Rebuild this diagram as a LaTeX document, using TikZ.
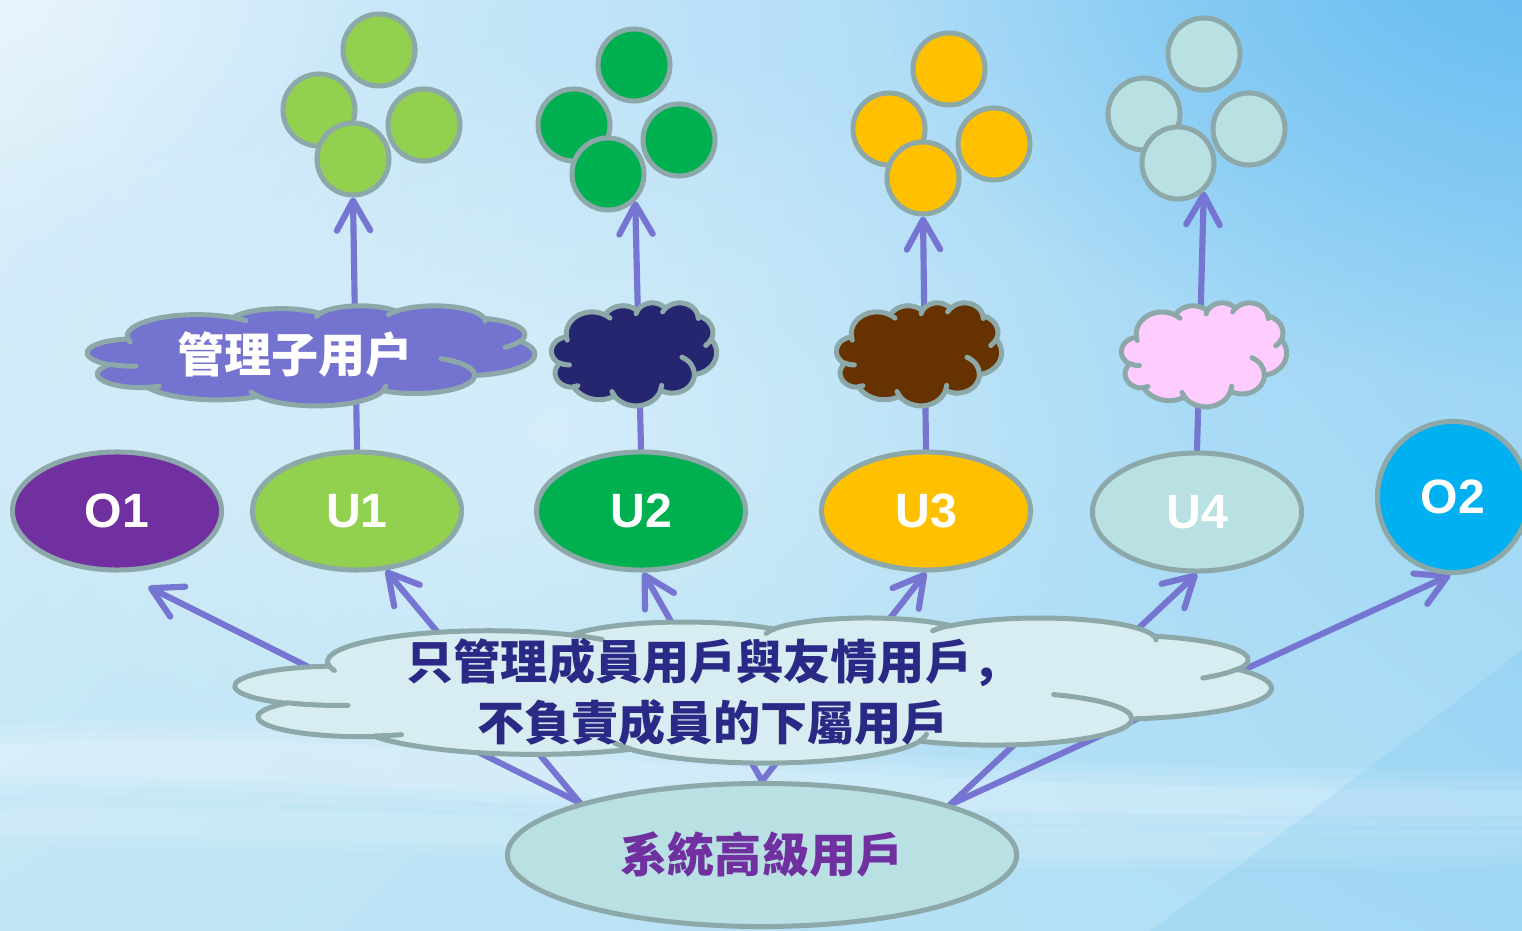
\documentclass[tikz,border=0pt]{standalone}
\usepackage{fontspec}
\newfontfamily\lat{Liberation Sans}
\newfontfamily\cjk{Noto Sans CJK TC}
\newfontfamily\cjksc{Noto Sans CJK SC}
\usetikzlibrary{shapes.geometric,arrows.meta,fadings,shadings,calc}
\pgfdeclarelayer{bg}\pgfdeclarelayer{back}\pgfsetlayers{bg,back,main}
\tikzfading[name=softglow,inner color=transparent!0,outer color=transparent!100]
\definecolor{ol}{HTML}{8DA8A9}
\definecolor{ac}{HTML}{7676D2}
\definecolor{cO1}{HTML}{7030A0}
\definecolor{cU1}{HTML}{92D050}
\definecolor{cU2}{HTML}{00B050}
\definecolor{cU3}{HTML}{FFC000}
\definecolor{cU4}{HTML}{B9E0E2}
\definecolor{cO2}{HTML}{00B0F0}
\definecolor{cPur}{HTML}{7474D0}
\definecolor{cNavy}{HTML}{262670}
\definecolor{cBrown}{HTML}{663300}
\definecolor{cPink}{HTML}{FFCCFF}
\definecolor{cBig}{HTML}{D8EDF1}
\definecolor{tNavy}{HTML}{2A2A86}
\definecolor{bgUL}{HTML}{DCEFFA}
\definecolor{bgUR}{HTML}{93D1F5}
\definecolor{bgLL}{HTML}{C2E6F6}
\definecolor{bgLR}{HTML}{AEDEF5}
\definecolor{glow}{HTML}{5CB8F0}
% PowerPoint-like cloud (units of 1000 in a 43.2 x 43.2 box, y down)
\newcommand\ooarc[4]{arc[x radius=#1,y radius=#2,start angle={atan2((#1)*sin(#3),(#2)*cos(#3))},delta angle={mod(atan2((#1)*sin((#3)+(#4)),(#2)*cos((#3)+(#4)))-atan2((#1)*sin(#3),(#2)*cos(#3))+720,360)}]}
\def\cloudpath{(3.900,14.370)
 \ooarc{6.753}{9.190}{-190.4875}{123.7805}
 \ooarc{5.333}{7.267}{-144.1024}{89.9452}
 \ooarc{4.365}{5.945}{-145.8079}{99.7230}
 \ooarc{4.857}{6.595}{-130.9861}{117.2417}
 \ooarc{5.333}{7.273}{-78.7089}{109.0269}
 \ooarc{6.775}{9.220}{-46.2673}{130.2690}
 \ooarc{5.785}{7.867}{0.6250}{114.0333}
 \ooarc{6.752}{9.215}{22.4516}{115.1726}
 \ooarc{7.720}{10.543}{66.2426}{75.7110}
 \ooarc{4.360}{5.918}{-274.9421}{146.7356}
 \ooarc{4.345}{5.945}{-246.8285}{152.5189}
 -- cycle}
\def\cloudinner{(4.693,26.177) \ooarc{4.345}{5.945}{86.7420}{26.4295}
 (6.928,34.899) \ooarc{4.360}{5.918}{73.6105}{11.4475}
 (16.478,39.090) \ooarc{6.752}{9.215}{137.6242}{14.0811}
 (28.827,34.751) \ooarc{6.752}{9.215}{6.4533}{15.9984}
 (34.129,22.954) \ooarc{5.785}{7.867}{-70.2924}{70.9174}
 (41.798,15.354) \ooarc{5.333}{7.273}{30.3180}{27.7515}
 (38.324,5.426) \ooarc{4.857}{6.595}{-13.7443}{14.8589}
 (29.078,3.952) \ooarc{4.857}{6.595}{-149.1815}{18.1954}
 (22.141,4.720) \ooarc{4.365}{5.945}{-163.4943}{17.6864}
 (14.000,5.192) \ooarc{6.753}{9.190}{-66.7070}{12.3194}
 (4.127,15.789) \ooarc{6.753}{9.190}{157.6544}{11.8582}}
\newcommand\ppcloud[5]{\begin{scope}[shift={(#1,#2)},x=1cm,y=1cm,xscale=#3/4320,yscale=-#4/4320]
 \filldraw[cloudline,fill=#5] \cloudpath;
 \draw[cloudline] \cloudinner;
\end{scope}}
\newcommand\cluster[4]{%
 \node[ball,fill=#4] (g#1a) at (#2,#3) {};
 \node[ball,fill=#4] (g#1b) at ($(#2,#3)+(-60,60)$) {};
 \node[ball,fill=#4] (g#1c) at ($(#2,#3)+(45,75)$) {};
 \node[ball,fill=#4] (g#1d) at ($(#2,#3)+(-26,109)$) {};}
\tikzset{
 outl/.style={draw=ol,line width=1.42pt},
 cloudline/.style={draw=ol,line width=1.42pt,line join=round,line cap=round},
 ball/.style={circle,outl,minimum size=0.72cm,inner sep=0pt},
 unode/.style={ellipse,outl,minimum width=2.09cm,minimum height=1.18cm,inner sep=0pt,
   text=white,font=\lat\bfseries\fontsize{13.7}{16}\selectfont},
 onode/.style={circle,outl,fill=cO2,minimum size=1.51cm,inner sep=0pt,
   text=white,font=\lat\bfseries\fontsize{13.7}{16}\selectfont},
 sysnode/.style={ellipse,outl,fill=cU4,minimum width=5.09cm,minimum height=1.43cm,inner sep=0pt,
   text=cO1,font=\cjk\bfseries\fontsize{13.4}{16}\selectfont},
 conn/.style={draw=ac,line width=1.75pt,line cap=round,-{Straight Barb[length=8.5pt,width=9.5pt,round]}},
 cjktext/.style={font=\cjk\bfseries\fontsize{13.4}{17.1}\selectfont,align=center,inner sep=0pt}
}
\begin{document}
\begin{tikzpicture}[x=0.01cm,y=-0.01cm]
\useasboundingbox (0,0) rectangle (1522,931);
% background
\begin{pgfonlayer}{bg}
\shade[upper left=bgUL,upper right=bgUR,lower left=bgLL,lower right=bgLR] (0,0) rectangle (1522,931);
\fill[glow,opacity=0.85,path fading=softglow] (1522,-60) ellipse [x radius=6.5cm,y radius=4.5cm];
\fill[white,opacity=0.35,path fading=softglow] (560,430) ellipse [x radius=6cm,y radius=4cm];
\fill[white,opacity=0.35,path fading=softglow] (0,0) ellipse [x radius=3.5cm,y radius=2.5cm];
\foreach \w/\o in {30/0.10,20/0.12,10/0.15}{
 \fill[white,opacity=\o] (0,755-\w) .. controls (350,730-\w) and (700,800-\w) .. (1522,800-\w)
  -- (1522,805+\w) .. controls (700,810+\w) and (350,765+\w) .. (0,765+\w) -- cycle;}
\foreach \w/\o in {20/0.08,10/0.1}{
 \fill[white,opacity=\o] (0,820-\w) .. controls (400,810-\w) and (800,850-\w) .. (1522,840-\w)
  -- (1522,845+\w) .. controls (800,860+\w) and (400,825+\w) .. (0,825+\w) -- cycle;}
\fill[glow,opacity=0.15] (1150,931) .. controls (1300,820) and (1420,730) .. (1522,650) -- (1522,931) -- cycle;
\end{pgfonlayer}
% clusters
\cluster{1}{379}{50}{cU1}
\cluster{2}{634}{65}{cU2}
\cluster{3}{949}{69}{cU3}
\cluster{4}{1204}{54}{cU4}
% clouds
\ppcloud{87.5}{305.5}{447}{100}{cPur}
\ppcloud{551.5}{302.5}{165}{103}{cNavy}
\ppcloud{836.5}{302.5}{165}{103}{cBrown}
\ppcloud{1121.5}{302.5}{165}{104}{cPink}
\ppcloud{235.5}{617.5}{1035}{145}{cBig}
% user nodes
\node[unode,fill=cO1] (O1) at (117,511) {O1};
\node[unode,fill=cU1] (U1) at (357,511) {U1};
\node[unode,fill=cU2] (U2) at (641,511) {U2};
\node[unode,fill=cU3] (U3) at (926,511) {U3};
\node[unode,fill=cU4] (U4) at (1197,512) {U4};
\node[onode] (O2) at (1453,497) {O2};
\node[sysnode] (sys) at (762,855) {系統高級用戶};
% texts in clouds
\node[cjktext,text=white] (t1) at (295,355) {管理子用户};
\node[cjktext,text=tNavy] (t2) at (713,692) {只管理成員用戶與友情用戶{\cjksc ，}\\不負責成員的下屬用戶};
% connectors
\begin{pgfonlayer}{back}
\draw[conn] (U1.north) -- (g1d.south);
\draw[conn] (U2.north) -- (g2d.-45);
\draw[conn] (U3.north) -- (g3d.south);
\draw[conn] (U4.north) -- (g4d.-48);
\draw[conn] (sys.164) -- ([yshift=-0.17cm]O1.-62);
\draw[conn] (sys.164) -- (U1.-64);
\draw[conn] (sys.north) -- (U2.-88);
\draw[conn] (sys.north) -- (U3.south);
\draw[conn] (sys.15) -- (U4.south);
\draw[conn] (sys.15) -- (O2.-92);
\end{pgfonlayer}
\end{tikzpicture}
\end{document}
